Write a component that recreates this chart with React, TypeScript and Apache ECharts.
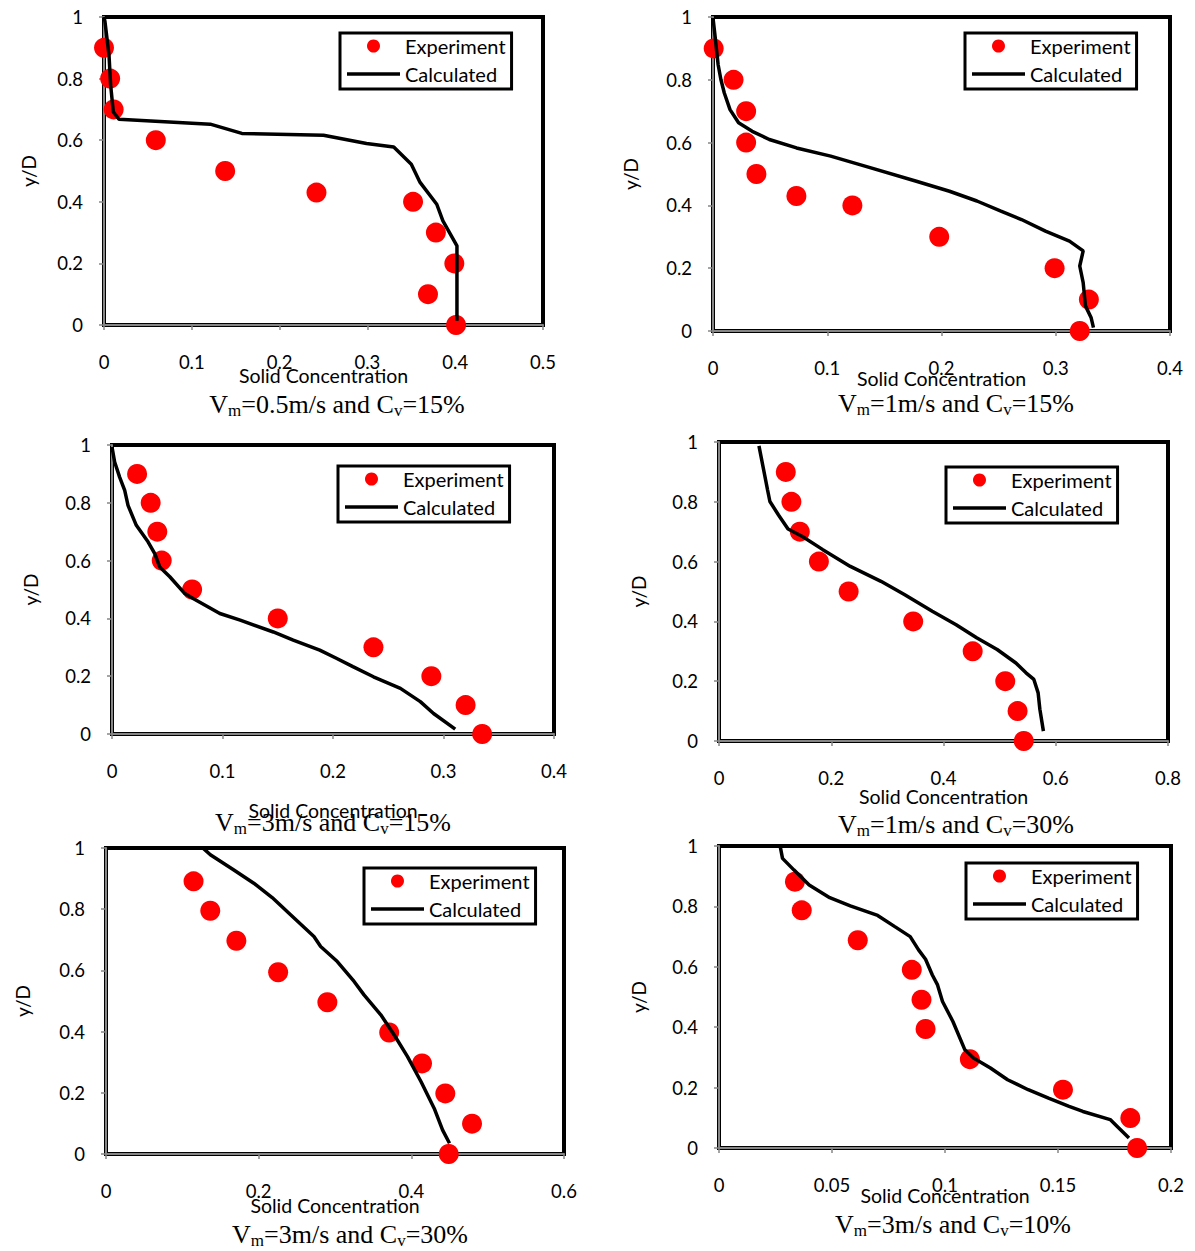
import React, { useEffect, useRef } from "react";
import * as echarts from "echarts";

// ---------- DATA ----------
const yTicks = [0, 0.2, 0.4, 0.6, 0.8, 1];

// Panel 1: Vm=0.5 m/s, Cv=15%
const p1ExpX = [0, 0.007, 0.011, 0.059, 0.138, 0.242, 0.352, 0.378, 0.399, 0.369, 0.401];
const p1ExpY = [0.9, 0.8, 0.7, 0.6, 0.5, 0.43, 0.4, 0.3, 0.2, 0.1, 0];
const p1CalcX = [0, 0.001, 0.0057, 0.0076, 0.0106, 0.017, 0.121, 0.157, 0.25, 0.299, 0.33, 0.35, 0.36, 0.379, 0.386, 0.402, 0.402];
const p1CalcY = [1, 0.987, 0.876, 0.778, 0.692, 0.668, 0.652, 0.622, 0.616, 0.589, 0.578, 0.522, 0.463, 0.392, 0.338, 0.257, 0.014];

// Panel 2: Vm=1 m/s, Cv=15%
const p2ExpX = [0.0006, 0.018, 0.029, 0.029, 0.038, 0.073, 0.122, 0.198, 0.299, 0.329, 0.321];
const p2ExpY = [0.9, 0.8, 0.7, 0.6, 0.5, 0.43, 0.4, 0.3, 0.2, 0.1, 0];
const p2CalcX = [0, 0.0015, 0.0045, 0.0069, 0.0099, 0.0149, 0.0224, 0.0343, 0.0493, 0.0731, 0.103, 0.133, 0.178, 0.207, 0.231, 0.252, 0.27, 0.291, 0.312, 0.324, 0.321, 0.324, 0.326, 0.331, 0.333];
const p2CalcY = [0.997, 0.949, 0.848, 0.801, 0.758, 0.705, 0.663, 0.636, 0.61, 0.583, 0.557, 0.525, 0.477, 0.445, 0.414, 0.382, 0.355, 0.318, 0.286, 0.255, 0.207, 0.154, 0.08, 0.042, 0.011];

// Panel 3: Vm=3 m/s, Cv=15%
const p3ExpX = [0.0227, 0.035, 0.041, 0.045, 0.0725, 0.15, 0.2366, 0.289, 0.32, 0.335];
const p3ExpY = [0.9, 0.8, 0.7, 0.6, 0.5, 0.4, 0.3, 0.2, 0.1, 0];
const p3CalcX = [0, 0.0024, 0.0069, 0.0115, 0.0145, 0.022, 0.0326, 0.0387, 0.0432, 0.0523, 0.0659, 0.0734, 0.0976, 0.116, 0.146, 0.164, 0.188, 0.203, 0.218, 0.2366, 0.261, 0.279, 0.291, 0.3106];
const p3CalcY = [0.993, 0.941, 0.889, 0.843, 0.791, 0.722, 0.665, 0.624, 0.578, 0.544, 0.486, 0.469, 0.417, 0.394, 0.353, 0.325, 0.29, 0.262, 0.233, 0.198, 0.158, 0.112, 0.071, 0.017];

// Panel 4: Vm=1 m/s, Cv=30%
const p4ExpX = [0.119, 0.129, 0.144, 0.178, 0.231, 0.346, 0.452, 0.51, 0.532, 0.543];
const p4ExpY = [0.9, 0.8, 0.7, 0.6, 0.5, 0.4, 0.3, 0.2, 0.1, 0];
const p4CalcX = [0.0712, 0.0785, 0.0865, 0.0907, 0.106, 0.123, 0.1486, 0.185, 0.234, 0.2886, 0.331, 0.38, 0.4225, 0.459, 0.4956, 0.529, 0.547, 0.561, 0.5686, 0.5717, 0.578];
const p4CalcY = [0.987, 0.917, 0.84, 0.801, 0.756, 0.709, 0.684, 0.64, 0.584, 0.534, 0.489, 0.434, 0.389, 0.345, 0.306, 0.261, 0.228, 0.206, 0.161, 0.106, 0.033];

// Panel 5: Vm=3 m/s, Cv=30%
const p5ExpX = [0.1147, 0.1366, 0.1708, 0.2255, 0.29, 0.371, 0.414, 0.4445, 0.4795, 0.449];
const p5ExpY = [0.891, 0.795, 0.697, 0.594, 0.496, 0.397, 0.296, 0.198, 0.099, 0];
const p5CalcX = [0.1279, 0.1367, 0.167, 0.1936, 0.2177, 0.2418, 0.2724, 0.2812, 0.303, 0.325, 0.338, 0.36, 0.3776, 0.395, 0.4126, 0.43, 0.441, 0.45];
const p5CalcY = [0.998, 0.978, 0.929, 0.885, 0.838, 0.782, 0.711, 0.678, 0.629, 0.564, 0.52, 0.455, 0.389, 0.318, 0.237, 0.149, 0.078, 0.035];

// Panel 6: Vm=3 m/s, Cv=10%
const p6ExpX = [0.0336, 0.0366, 0.0614, 0.0853, 0.0896, 0.0914, 0.111, 0.1522, 0.182, 0.185];
const p6ExpY = [0.882, 0.787, 0.688, 0.59, 0.491, 0.394, 0.294, 0.193, 0.099, 0];
const p6CalcX = [0.0271, 0.0281, 0.0331, 0.0399, 0.049, 0.0581, 0.0702, 0.0778, 0.0846, 0.0883, 0.0914, 0.0944, 0.0967, 0.0989, 0.1035, 0.1088, 0.1126, 0.1201, 0.1277, 0.1368, 0.1458, 0.1549, 0.161, 0.1731, 0.1761, 0.1814];
const p6CalcY = [0.998, 0.959, 0.921, 0.871, 0.829, 0.802, 0.77, 0.733, 0.7, 0.656, 0.625, 0.573, 0.54, 0.485, 0.419, 0.325, 0.298, 0.265, 0.226, 0.193, 0.165, 0.138, 0.121, 0.094, 0.072, 0.033];

const xMaxes = [0.5, 0.4, 0.4, 0.8, 0.6, 0.2];
const xIntervals = [0.1, 0.1, 0.1, 0.2, 0.2, 0.05];
const captionVm = ["0.5", "1", "3", "1", "3", "3"];
const captionCv = ["15", "15", "15", "30", "30", "10"];
const xAxisName = "Solid Concentration";
const yAxisName = "y/D";
const seriesNames = ["Experiment", "Calculated"];

const expX = [p1ExpX, p2ExpX, p3ExpX, p4ExpX, p5ExpX, p6ExpX];
const expY = [p1ExpY, p2ExpY, p3ExpY, p4ExpY, p5ExpY, p6ExpY];
const calcX = [p1CalcX, p2CalcX, p3CalcX, p4CalcX, p5CalcX, p6CalcX];
const calcY = [p1CalcY, p2CalcY, p3CalcY, p4CalcY, p5CalcY, p6CalcY];

// ---------- LAYOUT ----------
const grids = [
  { left: 104, top: 17, width: 439, height: 308 },
  { left: 713, top: 17, width: 457, height: 314 },
  { left: 112, top: 445, width: 442, height: 289 },
  { left: 719, top: 442, width: 449, height: 299 },
  { left: 106, top: 848, width: 458, height: 306 },
  { left: 719, top: 846, width: 452, height: 302 },
];
const xNameGaps = [40, 37, 66, 45, 41, 37];
const yNameGaps = [66, 73, 72, 71, 74, 71];
const legendPos = [
  { left: 340, top: 33 },
  { left: 965, top: 33 },
  { left: 338, top: 466 },
  { left: 946, top: 467 },
  { left: 364, top: 868 },
  { left: 966, top: 863 },
];
const captionPos = [
  { x: 337, y: 404 },
  { x: 956, y: 403 },
  { x: 333, y: 822 },
  { x: 956, y: 824 },
  { x: 350, y: 1234 },
  { x: 953, y: 1224 },
];

const SANS = "Lato";
const SERIF = "'Liberation Serif', 'Times New Roman', serif";
const LINE_ICON = "path://M0,0 L53,0 L53,3.5 L0,3.5 Z";

function buildOption() {
  const grid = grids.map((g) => ({
    ...g,
    show: true,
    borderColor: "#000",
    borderWidth: 4,
    backgroundColor: "transparent",
    containLabel: false,
  }));

  const xAxis = grids.map((_, i) => ({
    type: "value",
    gridIndex: i,
    min: 0,
    max: xMaxes[i],
    interval: xIntervals[i],
    name: xAxisName,
    nameLocation: "middle",
    nameGap: xNameGaps[i],
    nameMoveOverlap: false,
    nameTextStyle: { fontFamily: SANS, fontSize: 19.5, color: "#000" },
    axisLine: { show: true, onZero: false, lineStyle: { color: "#868686", width: 2 } },
    axisTick: { show: true, inside: false, length: 5, lineStyle: { color: "#868686", width: 1.5 } },
    axisLabel: { margin: 27, fontFamily: SANS, fontSize: 18.5, color: "#000" },
    splitLine: { show: false },
  }));

  const yAxis = grids.map((_, i) => ({
    type: "value",
    gridIndex: i,
    min: yTicks[0],
    max: yTicks[yTicks.length - 1],
    interval: 0.2,
    name: yAxisName,
    nameLocation: "middle",
    nameGap: yNameGaps[i],
    nameMoveOverlap: false,
    nameRotate: 90,
    nameTextStyle: { fontFamily: SANS, fontSize: 19, color: "#000" },
    axisLine: { show: true, onZero: false, lineStyle: { color: "#868686", width: 2 } },
    axisTick: { show: true, inside: false, length: 5, lineStyle: { color: "#868686", width: 1.5 } },
    axisLabel: { margin: 21, fontFamily: SANS, fontSize: 18.5, color: "#000" },
    splitLine: { show: false },
  }));

  const series: any[] = [];
  for (let i = 0; i < 6; i++) {
    series.push({
      name: seriesNames[0],
      type: "scatter",
      xAxisIndex: i,
      yAxisIndex: i,
      symbol: "circle",
      symbolSize: 20,
      itemStyle: { color: "#FF0000", opacity: 1 },
      data: expX[i].map((x, k) => [x, expY[i][k]]),
      z: 2,
    });
    series.push({
      name: seriesNames[1],
      type: "line",
      xAxisIndex: i,
      yAxisIndex: i,
      symbol: "none",
      showSymbol: false,
      smooth: false,
      lineStyle: { color: "#000", width: 3.5 },
      itemStyle: { color: "#000" },
      data: calcX[i].map((x, k) => [x, calcY[i][k]]),
      z: 3,
    });
  }

  const legend = legendPos.map((p) => ({
    ...p,
    orient: "vertical",
    data: [
      { name: seriesNames[0], icon: "circle" },
      { name: seriesNames[1], icon: LINE_ICON },
    ],
    itemWidth: 53,
    itemHeight: 13,
    itemGap: 8,
    padding: [3, 6, 5, 7],
    borderColor: "#000",
    borderWidth: 3,
    backgroundColor: "#fff",
    selectedMode: false,
    textStyle: { fontFamily: SANS, fontSize: 20, color: "#000", lineHeight: 19 },
  }));

  const graphic = captionPos.map((p, i) => ({
    type: "text",
    x: p.x,
    y: p.y,
    style: {
      text: `{n|V}{s|m}{n|=${captionVm[i]}m/s and C}{s|v}{n|=${captionCv[i]}%}`,
      align: "center",
      verticalAlign: "middle",
      fill: "#000",
      rich: {
        n: { fontFamily: SERIF, fontSize: 26, fill: "#000" },
        s: { fontFamily: SERIF, fontSize: 17, fill: "#000", padding: [13, 0, 0, 0] },
      },
    },
  }));

  return {
    animation: false,
    backgroundColor: "#fff",
    grid,
    xAxis,
    yAxis,
    legend,
    series,
    graphic,
  };
}

export default function App() {
  const ref = useRef<HTMLDivElement>(null);
  useEffect(() => {
    if (!ref.current) return;
    const chart = echarts.init(ref.current, undefined, { renderer: "svg" });
    chart.setOption(buildOption() as any);
    return () => {
      chart.dispose();
    };
  }, []);
  return (
    <div
      ref={ref}
      style={{ position: "absolute", left: 0, top: 0, width: 1195, height: 1251 }}
    />
  );
}
